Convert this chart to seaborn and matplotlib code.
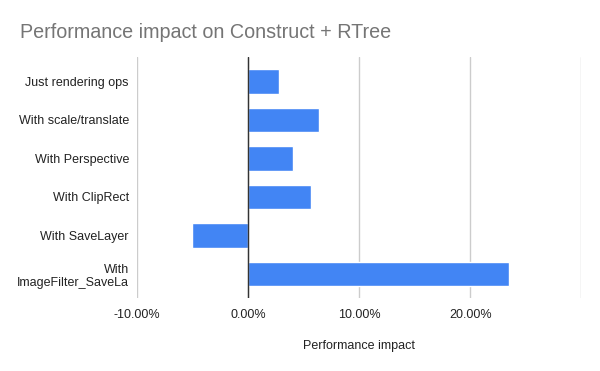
import matplotlib
matplotlib.use("Agg")
import matplotlib.pyplot as plt
import seaborn as sns
import pandas as pd

categories = ["Just rendering ops", "With scale/translate", "With Perspective",
              "With ClipRect", "With SaveLayer", "With\nImageFilter_SaveLa"]
impact = [2.74, 6.37, 4.0, 5.65, -5.07, 23.5]
xticks = [-10, 0, 10, 20, 30]
xtick_labels = ["-10.00%", "0.00%", "10.00%", "20.00%", ""]

df = pd.DataFrame({"category": categories, "impact": impact})

sns.set_theme(style="white")
plt.rcParams["font.family"] = ["Liberation Sans", "DejaVu Sans"]

fig = plt.figure(figsize=(6, 3.71), dpi=100)
ax = fig.add_axes([0.2288, 0.197, 0.969 - 0.2288, 0.846 - 0.197])

sns.barplot(data=df, x="impact", y="category", orient="h", color="#4285F4",
            saturation=1, width=0.64, ax=ax, zorder=3)

ax.set_xlim(-10, 30)
ax.set_ylim(5.62, -0.63)
ax.set_xticks(xticks)
ax.set_xticklabels(xtick_labels)
for x in xticks:
    ax.axvline(x, color="#cccccc", lw=1, zorder=1)
ax.axvline(0, color="#333333", lw=1, zorder=4)

for s in ax.spines.values():
    s.set_visible(False)

ax.tick_params(axis="x", length=0, pad=8, labelsize=9, labelcolor="#222222")
ax.tick_params(axis="y", length=0, pad=6, labelsize=9, labelcolor="#222222")
ax.set_ylabel("")
ax.set_xlabel("Performance impact", fontsize=9, color="#222222", labelpad=14)

fig.text(20 / 600, 1 - 33 / 371, "Performance impact on Construct + RTree",
         fontsize=14.2, color="#757575", va="center", ha="left")

fig.savefig("out.png", dpi=100, facecolor="white")
